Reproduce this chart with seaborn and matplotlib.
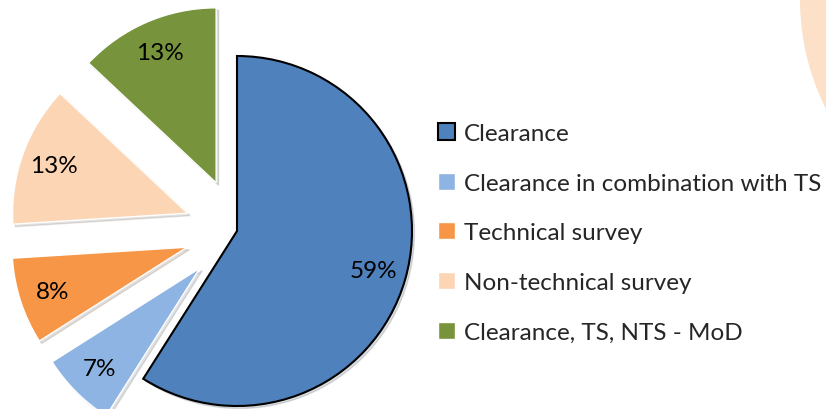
import matplotlib
matplotlib.use("Agg")
import matplotlib.pyplot as plt
import matplotlib.patches as mpatches
import seaborn as sns

# Data
categories = ["Clearance", "Clearance in combination with TS", "Technical survey",
              "Non-technical survey", "Clearance, TS, NTS - MoD"]
shares = [59, 7, 8, 13, 13]
colors = ["#4F81BD", "#8EB4E3", "#F79646", "#FCD5B5", "#77933C"]
explode = [0, 0.3, 0.3, 0.3, 0.3]

sns.set_theme(style="white")
plt.rcParams["font.family"] = ["Lato", "DejaVu Sans"]

W, H, DPI = 826, 410, 100
fig = plt.figure(figsize=(W / DPI, H / DPI), dpi=DPI)
fig.patch.set_facecolor("white")

# faint background decoration top-right
fig.patches.append(mpatches.Ellipse((1000 / W, 1.0), 400 / W, 446 / H,
                                    transform=fig.transFigure, facecolor="#FCE0C8",
                                    edgecolor="none", zorder=0))

ax = fig.add_axes([0, 0, 1, 1])
ax.set_facecolor("none")

wedges, texts, autotexts = ax.pie(
    shares, colors=sns.color_palette(colors), explode=explode,
    startangle=90, counterclock=False, autopct="%1.0f%%", pctdistance=0.81,
    shadow={"ox": 0.01, "oy": -0.01, "alpha": 0.15},
    textprops={"fontsize": 17.5, "color": "black"},
)
wedges[0].set_edgecolor("black")
wedges[0].set_linewidth(1.5)

# pixel-accurate placement: radius 175px, centre at (237, 232)
r, cx, cy = 175, 237, 232
ax.set_xlim(-cx / r, (W - cx) / r)
ax.set_ylim(-(H - cy) / r, cy / r)
ax.set_aspect("auto")
ax.axis("off")

leg = ax.legend(wedges, categories, loc="upper left",
                bbox_to_anchor=(438 / W, 1 - 124 / H), bbox_transform=fig.transFigure,
                frameon=False, fontsize=17.5, handlelength=0.7, handleheight=0.7,
                handletextpad=0.35, labelspacing=1.18, borderpad=0, borderaxespad=0)

fig.savefig("out.png", dpi=DPI, facecolor="white")
